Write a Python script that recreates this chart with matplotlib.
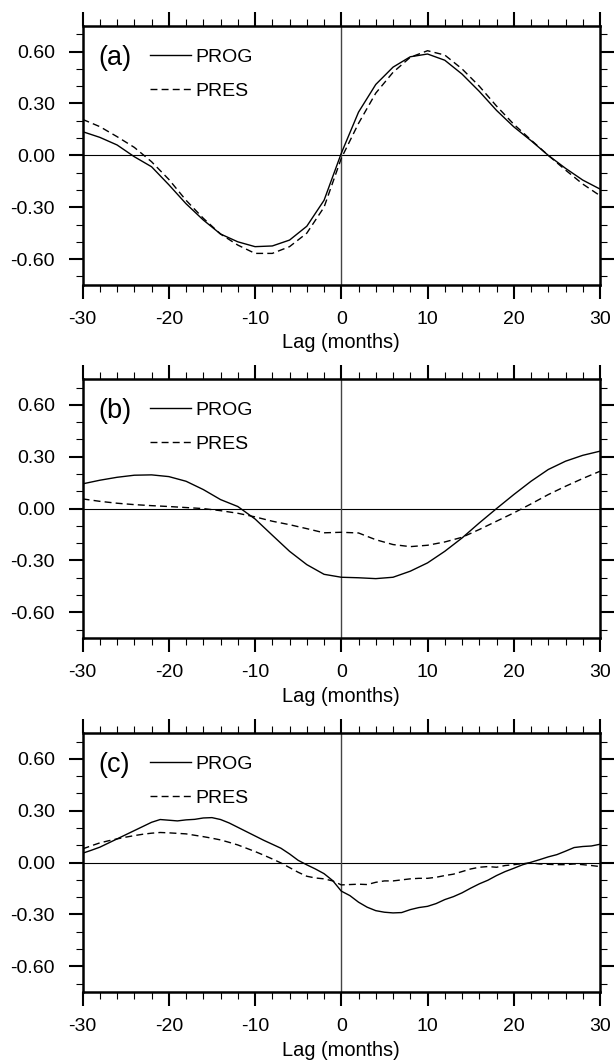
import matplotlib
matplotlib.use('Agg')
import matplotlib.pyplot as plt
from matplotlib.ticker import MultipleLocator, FormatStrFormatter

plt.rcParams['font.family'] = ['Liberation Sans', 'DejaVu Sans']
plt.rcParams['axes.unicode_minus'] = False

# lag axes (months)
lag_ab = list(range(-30, 31, 2))
lag_c = list(range(-30, 31, 1))

# (a) correlations, every 2 months
prog_a = [0.137, 0.104, 0.060, -0.008, -0.066, -0.170, -0.280, -0.374, -0.455, -0.500,
          -0.528, -0.524, -0.490, -0.410, -0.260, 0.012, 0.250, 0.410, 0.510, 0.570,
          0.586, 0.550, 0.470, 0.370, 0.260, 0.165, 0.085, 0.000, -0.075, -0.143, -0.195]
pres_a = [0.208, 0.166, 0.108, 0.046, -0.037, -0.139, -0.260, -0.364, -0.455, -0.519,
          -0.567, -0.567, -0.528, -0.450, -0.300, -0.017, 0.185, 0.360, 0.480, 0.567,
          0.605, 0.580, 0.500, 0.400, 0.285, 0.180, 0.089, 0.000, -0.085, -0.166, -0.233]

# (b)
prog_b = [0.143, 0.164, 0.181, 0.193, 0.195, 0.185, 0.158, 0.110, 0.052, 0.012,
          -0.060, -0.154, -0.247, -0.324, -0.380, -0.397, -0.400, -0.405, -0.397, -0.362,
          -0.314, -0.247, -0.170, -0.083, 0.000, 0.081, 0.158, 0.226, 0.274, 0.308, 0.332]
pres_b = [0.056, 0.042, 0.031, 0.023, 0.017, 0.012, 0.006, 0.000, -0.012, -0.027,
          -0.048, -0.073, -0.093, -0.116, -0.140, -0.137, -0.141, -0.180, -0.208, -0.220,
          -0.212, -0.193, -0.166, -0.121, -0.073, -0.025, 0.027, 0.081, 0.129, 0.174, 0.216]

# (c), every month
prog_c = [0.054, 0.071, 0.089, 0.113, 0.137, 0.161, 0.185, 0.209, 0.233, 0.249,
          0.245, 0.241, 0.247, 0.250, 0.258, 0.260, 0.249, 0.229, 0.204, 0.179,
          0.154, 0.129, 0.106, 0.083, 0.050, 0.013, -0.013, -0.037, -0.064, -0.104,
          -0.165, -0.191, -0.229, -0.258, -0.278, -0.287, -0.291, -0.289, -0.272, -0.260,
          -0.253, -0.237, -0.214, -0.197, -0.175, -0.148, -0.123, -0.102, -0.075, -0.052,
          -0.033, -0.013, 0.002, 0.017, 0.033, 0.046, 0.066, 0.087, 0.093, 0.096, 0.106]
pres_c = [0.079, 0.097, 0.114, 0.126, 0.137, 0.147, 0.156, 0.164, 0.170, 0.174,
          0.172, 0.169, 0.166, 0.158, 0.150, 0.141, 0.131, 0.117, 0.102, 0.083,
          0.064, 0.043, 0.021, -0.002, -0.029, -0.056, -0.079, -0.089, -0.094, -0.106,
          -0.129, -0.127, -0.125, -0.127, -0.114, -0.106, -0.106, -0.100, -0.094, -0.091,
          -0.091, -0.085, -0.075, -0.067, -0.052, -0.037, -0.027, -0.023, -0.027, -0.017,
          -0.012, -0.006, -0.002, -0.008, -0.010, -0.012, -0.012, -0.008, -0.012, -0.017, -0.023]

panel_labels = ['(a)', '(b)', '(c)']
series_names = ['PROG', 'PRES']
xticks = [-30, -20, -10, 0, 10, 20, 30]
yticks = [-0.6, -0.3, 0.0, 0.3, 0.6]


def draw_panel(ax, lags, prog, pres, label):
    ax.axhline(0, color='black', lw=0.8, zorder=1)
    ax.axvline(0, color='#444444', lw=1.0, zorder=1)
    ax.plot(lags, prog, color='black', lw=1.0, label=series_names[0])
    ax.plot(lags, pres, color='black', lw=1.0, linestyle=(0, (5, 3)), label=series_names[1])

    ax.set_xlim(-30, 30)
    ax.set_ylim(-0.75, 0.75)
    ax.set_xticks(xticks)
    ax.set_yticks(yticks)
    ax.yaxis.set_major_formatter(FormatStrFormatter('%.2f'))
    ax.xaxis.set_minor_locator(MultipleLocator(2))
    ax.yaxis.set_minor_locator(MultipleLocator(0.1))
    ax.tick_params(which='both', direction='out', top=True, right=True,
                   labelsize=14, colors='black')
    ax.tick_params(which='major', length=10, width=1.5)
    ax.tick_params(which='minor', length=4.8, width=0.8)
    ax.tick_params(axis='x', which='major', pad=8.5)
    ax.tick_params(axis='y', which='major', pad=10)
    for sp in ax.spines.values():
        sp.set_linewidth(1.8)

    ax.set_xlabel('Lag (months)', fontsize=14.4, labelpad=4)
    ax.text(0.03, 0.877, label, transform=ax.transAxes, fontsize=19.5,
            va='center', ha='left')
    ax.legend(loc='upper left', bbox_to_anchor=(0.130, 0.914), frameon=False,
              fontsize=14, handlelength=2.1, handletextpad=0.26,
              labelspacing=0.86, borderpad=0, borderaxespad=0)


fig = plt.figure(figsize=(6.14, 10.64), dpi=100)
bottoms = [0.7321, 0.4001, 0.0674]
data = [(lag_ab, prog_a, pres_a), (lag_ab, prog_b, pres_b), (lag_c, prog_c, pres_c)]
for b, (lags, p1, p2), lab in zip(bottoms, data, panel_labels):
    ax = fig.add_axes([0.1345, b, 0.8427, 0.2438])
    draw_panel(ax, lags, p1, p2, lab)

fig.savefig('out.png', dpi=100)
